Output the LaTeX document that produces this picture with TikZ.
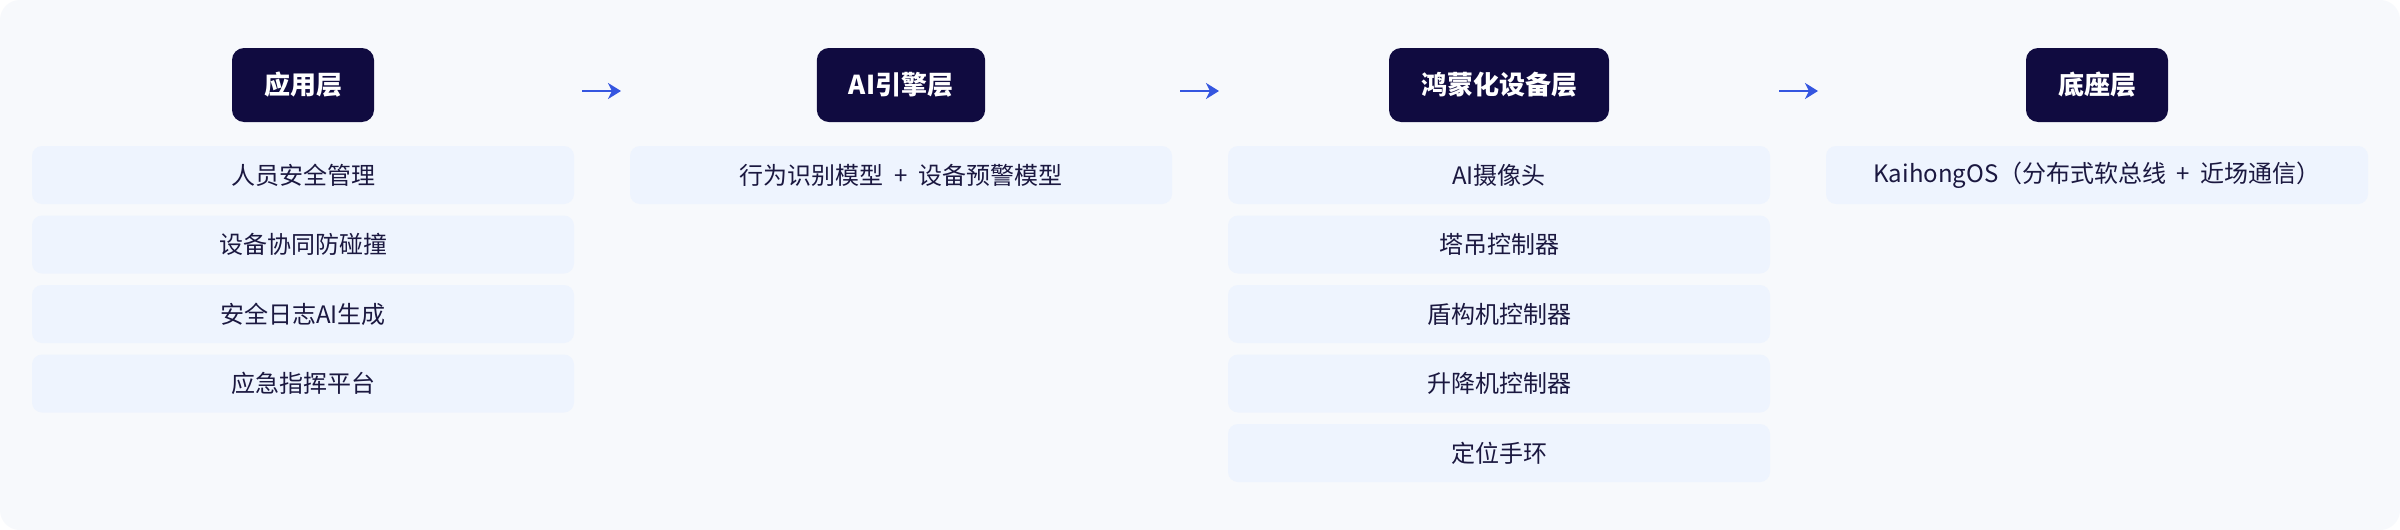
\documentclass[tikz,border=0pt]{standalone}
\usepackage{fontspec}
\setmainfont{Noto Sans CJK SC}
\usetikzlibrary{arrows.meta}
\definecolor{pagebg}{HTML}{F7F9FC}
\definecolor{itembg}{HTML}{EEF4FE}
\definecolor{headbg}{HTML}{100B40}
\definecolor{inktext}{HTML}{1B1840}
\definecolor{flowblue}{HTML}{3556E0}
\def\plussep{\hspace{5.2pt}+\hspace{5.2pt}}
\begin{document}
\begin{tikzpicture}[x=0.5pt, y=-0.5pt,
	layerhead/.style={fill=headbg, rounded corners=6pt, text=white, font=\bfseries\fontsize{13pt}{15pt}\selectfont, minimum height=37pt, inner xsep=16pt},
	layeritem/.style={fill=itembg, rounded corners=5pt, text=inktext, font=\fontsize{12pt}{14pt}\selectfont, minimum width=271pt, minimum height=29pt},
	flow/.style={line width=1.4pt, color=flowblue, -{Stealth[length=6.5pt, width=8pt, inset=2pt]}}]
			%%%%% START %%%%%
			
			\fill[white] (0, 0) rectangle (2400, 530);
			\fill[pagebg, rounded corners=10pt] (0, 0) rectangle (2400, 530);
			
			\node[layerhead] (h1) at (303, 85) {应用层};
			\node[layerhead] (h2) at (901, 85) {AI引擎层};
			\node[layerhead] (h3) at (1499, 85) {鸿蒙化设备层};
			\node[layerhead] (h4) at (2097, 85) {底座层};
			
			\node[layeritem] (app1) at (303, 175) {人员安全管理};
			\node[layeritem] (app2) at (303, 244.5) {设备协同防碰撞};
			\node[layeritem] (app3) at (303, 314) {安全日志AI生成};
			\node[layeritem] (app4) at (303, 383.5) {应急指挥平台};
			
			\node[layeritem] (ai1) at (901, 175) {行为识别模型\plussep 设备预警模型};
			
			\node[layeritem] (dev1) at (1499, 175) {AI摄像头};
			\node[layeritem] (dev2) at (1499, 244.5) {塔吊控制器};
			\node[layeritem] (dev3) at (1499, 314) {盾构机控制器};
			\node[layeritem] (dev4) at (1499, 383.5) {升降机控制器};
			\node[layeritem] (dev5) at (1499, 453) {定位手环};
			
			\node[layeritem] (base1) at (2097, 175) {KaihongOS（分布式软总线\plussep 近场通信）};
			
			\coordinate (a1s) at (582, 91);
			\coordinate (a1e) at (621, 91);
			\coordinate (a2s) at (1180, 91);
			\coordinate (a2e) at (1219, 91);
			\coordinate (a3s) at (1779, 91);
			\coordinate (a3e) at (1818, 91);
			
			\draw[flow] (a1s) -- (a1e);
			\draw[flow] (a2s) -- (a2e);
			\draw[flow] (a3s) -- (a3e);
			
			%%%%% END %%%%%
\end{tikzpicture}
\end{document}
